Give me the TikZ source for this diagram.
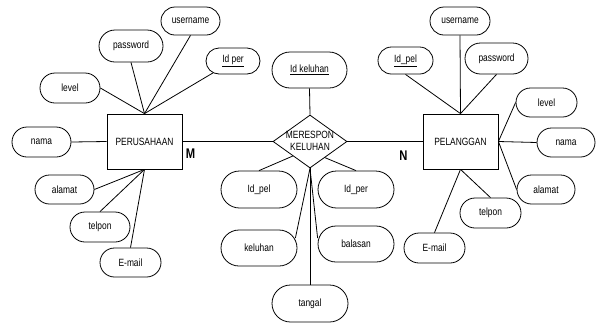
\documentclass[tikz,border=0pt]{standalone}
\usepackage{fontspec}
\setmainfont{Liberation Sans}[FakeStretch=0.8]
\usetikzlibrary{shapes.geometric,shapes.misc,calc}
\tikzset{
  att/.style={draw, rounded rectangle, inner sep=0pt, line width=0.8pt, font=\fontsize{10.5}{12}\selectfont},
  ent/.style={draw, rectangle, inner sep=0pt, line width=0.8pt, minimum width=75pt, minimum height=55pt, font=\fontsize{10.5}{12}\selectfont},
  link/.style={line width=0.8pt},
  card/.style={font=\fontsize{14}{14}\selectfont\bfseries, inner sep=0pt}
}
\begin{document}
\begin{tikzpicture}[x=1pt,y=-1pt]
\useasboundingbox (0,0) rectangle (599,322);
% entities
\node[ent] (per) at (144.5,141.5) {PERUSAHAAN};
\node[ent] (pel) at (460.5,141.5) {PELANGGAN};
% relationship
\node[draw, diamond, line width=0.8pt, inner sep=0pt, minimum width=74pt, minimum height=53pt] (rel) at (310,141.5) {};
\node[align=center, inner sep=0pt, font=\fontsize{10.5}{11.7}\selectfont] (reltext) at (310,141) {MERESPON\\KELUHAN};
\node[card] (M) at (190.5,154) {M};
\node[card] (N) at (403.5,155.5) {N};
% left attributes
\node[att, minimum width=60pt, minimum height=30pt] (level) at (70,88) {level};
\node[att, minimum width=64pt, minimum height=32pt] (password) at (131,46) {password};
\node[att, minimum width=59pt, minimum height=28pt] (username) at (190.5,21) {username};
\node[att, minimum width=54pt, minimum height=26pt] (idper) at (233,61) {\underline{Id per}};
\node[att, minimum width=59pt, minimum height=30pt] (nama) at (41.5,142) {nama};
\node[att, minimum width=59pt, minimum height=29pt] (alamat) at (64.5,189.5) {alamat};
\node[att, minimum width=60pt, minimum height=30pt] (telpon) at (100,227) {telpon};
\node[att, minimum width=61pt, minimum height=29pt] (email) at (130.5,262.5) {E-mail};
% center attributes
\node[att, minimum width=75pt, minimum height=36pt] (idkel) at (309.5,70) {\underline{Id keluhan}};
\node[att, minimum width=76pt, minimum height=37pt] (cidpel) at (259,189.5) {Id\_pel};
\node[att, minimum width=76pt, minimum height=37pt] (cidper) at (356,189.5) {Id\_per};
\node[att, minimum width=76pt, minimum height=36pt] (keluhan) at (259,248) {keluhan};
\node[att, minimum width=76pt, minimum height=36pt] (balasan) at (356,244) {balasan};
\node[att, minimum width=76pt, minimum height=37pt] (tangal) at (310,303.5) {tangal};
% right attributes
\node[att, minimum width=55pt, minimum height=27pt] (idpel) at (405.5,60.5) {\underline{Id\_pel}};
\node[att, minimum width=60pt, minimum height=28pt] (username2) at (460,21) {username};
\node[att, minimum width=63pt, minimum height=31pt] (password2) at (496.5,58.5) {password};
\node[att, minimum width=61pt, minimum height=29pt] (level2) at (546.5,102.5) {level};
\node[att, minimum width=58pt, minimum height=29pt] (nama2) at (566,142.5) {nama};
\node[att, minimum width=58pt, minimum height=29pt] (alamat2) at (546,189.5) {alamat};
\node[att, minimum width=61pt, minimum height=30pt] (telpon2) at (490.5,213) {telpon};
\node[att, minimum width=61pt, minimum height=30pt] (email2) at (434.5,248) {E-mail};
% left links
\draw[link] (level.east) -- (per.north);
\draw[link] (password.south) -- (per.north);
\draw[link] (username.south) -- (per.north);
\draw[link] (idper) -- (per.north);
\draw[link] (nama.east) -- (per.west);
\draw[link] (alamat.east) -- (per.south);
\draw[link] (telpon.north) -- (per.south);
\draw[link] (email.north) -- (per.south);
% relation links
\draw[link] (per.east) -- (rel.west);
\draw[link] (rel.east) -- (pel.west);
\draw[link] (idkel.south) -- (rel.north);
\draw[link] (cidpel.north) -- ($(rel.west)!0.54!(rel.south)$);
\draw[link] (cidper.north) -- ($(rel.south)!0.4!(rel.east)$);
\draw[link] ([shift={(-2pt,10pt)}]keluhan.east) -- (rel.south);
\draw[link] ([yshift=6pt]balasan.west) -- (rel.south);
\draw[link] (tangal.north) -- (rel.south);
% right links
\draw[link] (idpel.south) -- (pel.north);
\draw[link] (username2.south) -- (pel.north);
\draw[link] (password2.south) -- (pel.north);
\draw[link] (level2.west) -- (pel.east);
\draw[link] (nama2.west) -- (pel.east);
\draw[link] (alamat2.west) -- (pel.east);
\draw[link] (telpon2.north) -- (pel.south);
\draw[link] (email2.north) -- (pel.south);
\end{tikzpicture}
\end{document}
